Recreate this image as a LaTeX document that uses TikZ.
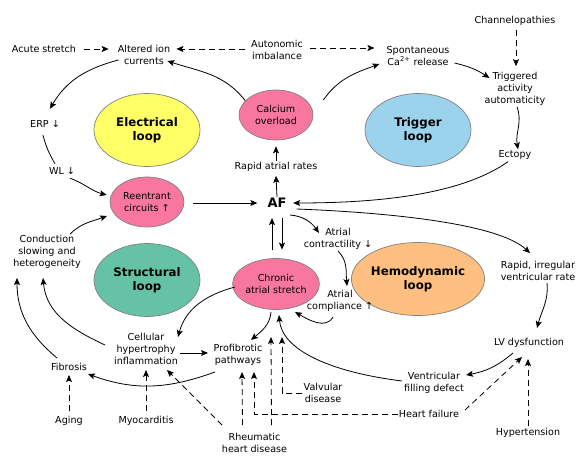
\documentclass[tikz,border=0pt]{standalone}
\usepackage{fontspec}
\setmainfont{DejaVu Sans}
\usetikzlibrary{shapes.geometric,arrows.meta,calc}
\definecolor{pinkc}{HTML}{F7779F}
\definecolor{yellowc}{HTML}{FFFF66}
\definecolor{bluec}{HTML}{9CD3EC}
\definecolor{greenc}{HTML}{66C2A4}
\definecolor{orangec}{HTML}{FFBF80}
\definecolor{edgec}{HTML}{808080}
\begin{document}
\begin{tikzpicture}[x=1pt,y=1pt,
  lbl/.style={align=center, inner sep=1pt, font=\fontsize{9.6}{12}\selectfont},
  loopell/.style={ellipse, draw=edgec, line width=0.7pt, minimum width=106pt, minimum height=73pt, inner sep=0pt, align=center, font=\bfseries\fontsize{11.8}{14.5}\selectfont},
  pinkell/.style={ellipse, draw=edgec, line width=0.7pt, fill=pinkc, minimum width=74pt, minimum height=50pt, inner sep=0pt, align=center, font=\fontsize{9.6}{12}\selectfont},
  arr/.style={-{Stealth[length=7pt,width=6pt,inset=1.5pt]}, line width=0.8pt},
  darr/.style={arr, dash pattern=on 6pt off 4pt},
  plain/.style={line width=0.8pt},
]
\useasboundingbox (0,0) rectangle (588,-470);

% loops
\node[loopell, fill=yellowc] (elec) at (147,-130) {Electrical\\loop};
\node[loopell, fill=bluec] (trigloop) at (418,-130) {Trigger\\loop};
\node[loopell, fill=greenc] (struct) at (147,-280) {Structural\\loop};
\node[loopell, fill=orangec] (hemo) at (418,-279) {Hemodynamic\\loop};

% pink ellipses
\node[pinkell] (calc) at (276,-115) {Calcium\\overload};
\node[pinkell] (reent) at (147,-202) {Reentrant\\circuits ↑};
\node[pinkell, minimum height=51pt] (chronic) at (276,-284) {Chronic\\atrial stretch};

% labels
\node[lbl] (acute) at (44,-49) {Acute stretch};
\node[lbl] (ion) at (144,-55) {Altered ion\\currents};
\node[lbl] (auto) at (277,-50) {Autonomic\\imbalance};
\node[lbl] (spont) at (418,-56) {Spontaneous\\Ca\textsuperscript{2+} release};
\node[lbl] (chan) at (515,-21) {Channelopathies};
\node[lbl] (trig) at (515,-89) {Triggered\\activity\\automaticity};
\node[lbl] (ectopy) at (515,-155) {Ectopy};
\node[lbl] (erp) at (45,-124) {ERP ↓};
\node[lbl] (wl) at (62,-171) {WL ↓};
\node[lbl] (rar) at (276,-167) {Rapid atrial rates};
\node[inner sep=1pt, font=\bfseries\fontsize{13}{15}\selectfont] (af) at (277,-203) {AF};
\node[lbl] (contr) at (338,-239) {Atrial\\contractility ↓};
\node[lbl] (compl) at (340,-301) {Atrial\\compliance ↑};
\node[lbl] (rirr) at (538,-271) {Rapid, irregular\\ventricular rate};
\node[lbl] (lv) at (529,-343) {LV dysfunction};
\node[lbl] (vfd) at (434,-383) {Ventricular\\filling defect};
\node[lbl] (hf) at (429,-414) {Heart failure};
\node[lbl] (hyp) at (528,-433) {Hypertension};
\node[lbl] (valv) at (323,-393) {Valvular\\disease};
\node[lbl] (cond) at (47,-252) {Conduction\\slowing and\\heterogeneity};
\node[lbl] (cell) at (146,-349) {Cellular\\hypertrophy\\inflammation};
\node[lbl] (prof) at (238,-354.5) {Profibrotic\\pathways};
\node[lbl] (fib) at (69,-367) {Fibrosis};
\node[lbl] (aging) at (69,-421) {Aging};
\node[lbl] (myo) at (146,-421) {Myocarditis};
\node[lbl] (rheum) at (254.5,-443) {Rheumatic\\heart disease};

% top dashed
\draw[darr] ($(acute.east)+(7,0)$) -- ($(acute.east -| ion.west)+(-8,0)$);
\draw[darr] ($(auto.west)+(-5,1)$) -- ($(auto.west -| ion.east)+(5,1)$);
\draw[darr] ($(auto.east)+(6,2)$) -- ($(auto.east -| spont.west)+(-11,2)$);
\draw[darr] ($(chan.south)+(1,-3)$) -- ($(trig.north)+(1,5)$);

% electrical loop
\draw[arr] (calc.155) to[out=128,in=-18] ($(ion.east)+(-4,-6)$);
\draw[arr] ($(ion.south west)+(2,6)$) to[out=195,in=60] ($(erp.north)+(5,10.5)$);
\draw[plain] ($(erp.south)+(-2,-6.5)$) to[out=-75,in=120] ($(wl.north)+(-7,2.5)$);
\draw[arr] ($(wl.south)+(8,-2.5)$) to[out=-20,in=165] ($(reent.west)+(-3,7)$);
\draw[arr] ($(reent.east |- af.west)+(9,0)$) -- ($(af.west)+(-9,0)$);
\draw[arr] ($(cond.north)+(23,0)$) to[out=45,in=200] ($(reent.center)+(-40,-14)$);

% trigger loop
\draw[arr] ($(calc.east)+(10,15)$) to[out=55,in=200] ($(spont.west)+(-6,-8)$);
\draw[arr] ($(spont.east)+(4,-7)$) to[bend left=10] ($(trig.west)+(6,11)$);
\draw[arr] ($(trig.south)+(2,0)$) to[out=-70,in=100] ($(ectopy.north)+(3,0)$);
\draw[arr] ($(ectopy.south)+(-7,-1)$) .. controls (465,-192) and (390,-203) .. ($(af.east)+(5.5,0)$);

% AF centre
\draw[arr] (af.north) -- ($(rar.south)+(0,-3)$);
\draw[arr] (rar.north) -- ($(calc.south)+(0,-6)$);
\draw[arr] ($(chronic.north)+(-4,8.5)$) -- ($(af.center)+(-5,-15)$);
\draw[arr] ($(af.center)+(5,-15)$) -- ($(chronic.north)+(6,8.5)$);

% hemodynamic loop
\draw[arr] ($(af.center)+(13,-12)$) to[out=-5,in=125] ($(contr.center)+(-19,6)$);
\draw[arr] ($(contr.center)+(0,-12)$) to[out=-45,in=95] ($(compl.center)+(7,15)$);
\draw[arr] ($(compl.center)+(-7,-16)$) to[out=-120,in=-30] ($(chronic.center)+(19,-28)$);
\draw[arr] ($(af.east)+(9,-6)$) .. controls (400,-213) and (500,-225) .. ($(rirr.north)+(-8,7)$);
\draw[arr] ($(rirr.center)+(9,-12)$) to[out=-85,in=75] ($(lv.center)+(8,15)$);
\draw[arr] ($(lv.center)+(-16,-10)$) to[bend left=15] ($(vfd.center)+(32,8)$);
\draw[arr] ($(vfd.center)+(-32,2)$) .. controls (330,-372) and (282,-350) .. ($(chronic.center)+(3,-31)$);
\draw[darr] ($(hf.center)+(36,4)$) -- ($(lv.center)+(-7,-14)$);
\draw[darr] ($(hyp.north)+(0,1)$) -- ($(lv.center)+(-1,-16)$);

% structural loop
\draw[arr] ($(chronic.center)+(-41,-3)$) to[out=195,in=75] ($(cell.center)+(32,12)$);
\draw[arr] ($(chronic.center)+(-5,-28)$) to[out=-95,in=40] ($(prof.center)+(13,14.5)$);
\draw[arr] ($(cell.center)+(34,-4)$) -- ($(prof.center)+(-30,1.5)$);
\draw[arr] ($(prof.center)+(-23,-17.5)$) to[out=-160,in=-20] ($(fib.center)+(19,-7)$);
\draw[arr] ($(cell.center)+(-41,4)$) to[out=155,in=-85] ($(cond.center)+(-4,-26)$);
\draw[arr] ($(fib.center)+(-12,9)$) to[out=140,in=-90] ($(cond.center)+(-30,-26)$);

% bottom dashed
\draw[darr] ($(aging.north)+(0,4)$) -- ($(fib.center)+(0,-8)$);
\draw[darr] ($(myo.north)+(0,4)$) -- ($(cell.center)+(0,-21)$);
\draw[darr] ($(rheum.center)+(-32.5,18)$) -- ($(cell.center)+(21,-21)$);
\draw[darr] ($(rheum.north)+(-12,7)$) -- ($(prof.center)+(4,-17.5)$);
\draw[darr] ($(rheum.north)+(17,7)$) -- ($(chronic.center)+(-5,-53)$);
\draw[darr] (valv.west) -| ($(chronic.center)+(6,-53)$);
\draw[darr] (hf.west) -| ($(prof.center)+(16,-17.5)$);
\end{tikzpicture}
\end{document}
